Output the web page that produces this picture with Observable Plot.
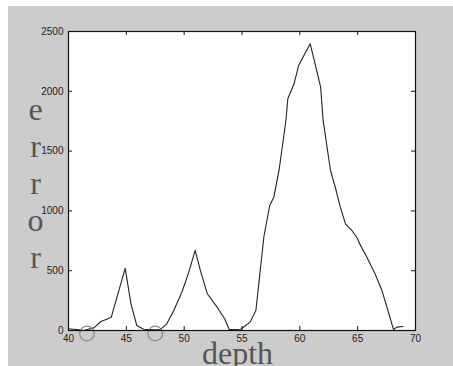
<!DOCTYPE html>
<html>
<head>
<meta charset="utf-8">
<script src="https://cdn.jsdelivr.net/npm/d3@7"></script>
<script src="https://cdn.jsdelivr.net/npm/@observablehq/plot@0.6"></script>
<style>
  html, body { margin: 0; padding: 0; background: #ffffff; }
  #wrap { position: absolute; left: 8px; top: 6px; width: 445px; height: 360px; background: #cccccc; }
</style>
</head>
<body>
<div id="wrap"></div>
<script>
const depth = [40, 40.9, 41.3, 42.2, 42.8, 43.3, 43.7, 44.9, 45.4, 45.9, 46.5, 47.4, 47.9, 48.5, 49.1, 49.8, 50.4, 50.95, 51.4, 52.0, 52.85, 53.5, 53.9, 54.9, 55.7, 56.2, 56.45, 56.9, 57.4, 57.75, 58.2, 58.56, 58.8, 58.96, 59.5, 59.9, 60.35, 60.9, 61.35, 61.8, 62.0, 62.1, 62.65, 63.1, 63.5, 63.95, 64.5, 65.0, 65.1, 65.8, 66.5, 67.1, 67.7, 68.1, 68.4, 68.9];
const error = [14, 6, 0, 22, 75, 95, 111, 520, 223, 42, 11, 5, 5, 56, 167, 320, 488, 670, 502, 307, 195, 98, 8, 10, 70, 167, 390, 790, 1045, 1115, 1338, 1589, 1760, 1937, 2063, 2216, 2299, 2397, 2216, 2034, 1770, 1700, 1338, 1185, 1031, 892, 836, 767, 739, 613, 474, 334, 140, 8, 28, 33];
const circleDepth = [41.6, 47.5];
const circleError = [-25, -25];
const xTicks = [40, 45, 50, 55, 60, 65, 70];
const yTicks = [0, 500, 1000, 1500, 2000, 2500];
const xLabel = "depth";
const yLabel = "error";

const data = depth.map((d, i) => ({depth: d, error: error[i]}));
const circles = circleDepth.map((d, i) => ({depth: d, error: circleError[i]}));

const W = 445, H = 360, ML = 60, MR = 38, MT = 25, MB = 36, TL = 4;
const FW = W - ML - MR, FH = H - MT - MB;
const tickFont = "Liberation Sans, Arial, sans-serif";
const serif = "Liberation Serif, Times New Roman, serif";
const chart = Plot.plot({
  width: W,
  height: H,
  marginLeft: ML,
  marginRight: MR,
  marginTop: MT,
  marginBottom: MB,
  style: {background: "transparent", fontFamily: tickFont, fontSize: "10px", color: "#222", overflow: "visible"},
  x: {domain: [40, 70], ticks: xTicks},
  y: {domain: [0, 2500], ticks: yTicks},
  marks: [
    Plot.frame({fill: "white", stroke: "none"}),
    Plot.line(data, {x: "depth", y: "error", stroke: "#222", strokeWidth: 1.1}),
    Plot.dot(circles, {x: "depth", y: "error", r: 7.3, stroke: "#888", strokeWidth: 1.2, fill: "none"}),
    Plot.tickX(xTicks, {x: d => d, insetTop: FH - TL, stroke: "#111"}),
    Plot.tickX(xTicks, {x: d => d, insetBottom: FH - TL, stroke: "#111"}),
    Plot.tickY(yTicks, {y: d => d, insetRight: FW - TL, stroke: "#111"}),
    Plot.tickY(yTicks, {y: d => d, insetLeft: FW - TL, stroke: "#111"}),
    Plot.axisX({anchor: "bottom", ticks: xTicks, tickSize: 0, tickPadding: 4, tickFormat: d3.format("d"), label: null}),
    Plot.axisY({anchor: "left", ticks: yTicks, tickSize: 0, tickPadding: 5, tickFormat: d3.format("d"), label: null}),
    Plot.frame({stroke: "#111", strokeWidth: 1.2}),
    Plot.text([yLabel.split("").join("\n")], {text: d => d, frameAnchor: "left", dx: -33, dy: 1.5, lineHeight: 1.156, textAnchor: "middle", lineAnchor: "middle", fontFamily: serif, fontSize: 32, fill: "#555"}),
    Plot.text([xLabel], {text: d => d, frameAnchor: "bottom", dx: -4.5, dy: 22.8, textAnchor: "middle", lineAnchor: "middle", fontFamily: serif, fontSize: 32, fill: "#555"})
  ]
});
document.getElementById("wrap").appendChild(chart);
</script>
</body>
</html>
